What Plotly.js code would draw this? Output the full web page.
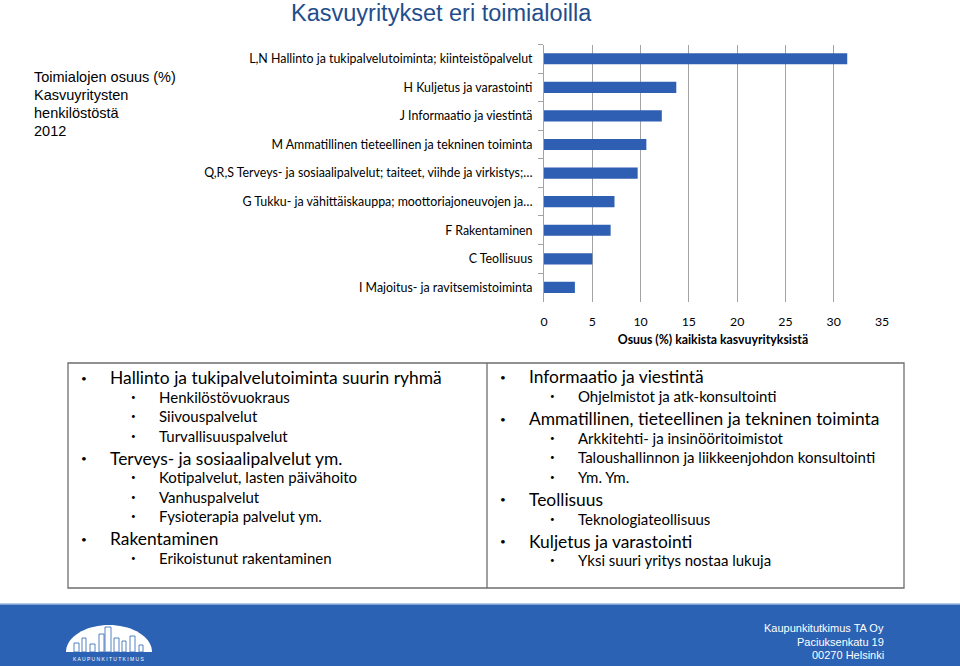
<!DOCTYPE html>
<html>
<head>
<meta charset="utf-8">
<script src="https://cdn.plot.ly/plotly-3.0.1.min.js"></script>
<style>
  html, body { margin: 0; padding: 0; background: #fff; }
  #chart { width: 960px; height: 666px; }
</style>
</head>
<body>
<div id="chart"></div>
<script>
// Chart data (top to bottom as shown)
const categories = [
  "L,N Hallinto ja tukipalvelutoiminta; kiinteistöpalvelut",
  "H Kuljetus ja varastointi",
  "J Informaatio ja viestintä",
  "M Ammatillinen tieteellinen ja tekninen toiminta",
  "Q,R,S Terveys- ja sosiaalipalvelut; taiteet, viihde ja virkistys;…",
  "G Tukku- ja vähittäiskauppa; moottoriajoneuvojen ja…",
  "F Rakentaminen",
  "C Teollisuus",
  "I Majoitus- ja ravitsemistoiminta"
];
const shares = [31.4, 13.7, 12.2, 10.6, 9.7, 7.3, 6.9, 5.0, 3.2];
const xTicks = [0, 5, 10, 15, 20, 25, 30, 35];

// Texts
const pageTitle = "Kasvuyritykset eri toimialoilla";
const sideNote = ["Toimialojen osuus (%)", "Kasvuyritysten", "henkilöstöstä", "2012"];
const xTitle = "<b>Osuus (%) kaikista kasvuyrityksistä</b>";

// Bullet lists: [level, text]
const leftList = [
  [1, "Hallinto ja tukipalvelutoiminta suurin ryhmä"],
  [2, "Henkilöstövuokraus"],
  [2, "Siivouspalvelut"],
  [2, "Turvallisuuspalvelut"],
  [1, "Terveys- ja sosiaalipalvelut ym."],
  [2, "Kotipalvelut, lasten päivähoito"],
  [2, "Vanhuspalvelut"],
  [2, "Fysioterapia palvelut ym."],
  [1, "Rakentaminen"],
  [2, "Erikoistunut rakentaminen"]
];
const rightList = [
  [1, "Informaatio ja viestintä"],
  [2, "Ohjelmistot ja atk-konsultointi"],
  [1, "Ammatillinen, tieteellinen ja tekninen toiminta"],
  [2, "Arkkitehti- ja insinööritoimistot"],
  [2, "Taloushallinnon ja liikkeenjohdon konsultointi"],
  [2, "Ym. Ym."],
  [1, "Teollisuus"],
  [2, "Teknologiateollisuus"],
  [1, "Kuljetus ja varastointi"],
  [2, "Yksi suuri yritys nostaa lukuja"]
];
const footerLines = ["Kaupunkitutkimus TA Oy", "Paciuksenkatu 19", "00270 Helsinki"];

// helpers: page pixels -> paper
const W = 960, H = 666;
const px = x => x / W;
const py = y => 1 - y / H;

const annotations = [];
const shapes = [];

function txt(x, y, text, size, opts) {
  opts = opts || {};
  annotations.push({
    xref: 'paper', yref: 'paper', x: px(x), y: py(y),
    text: text, showarrow: false,
    xanchor: opts.xanchor || 'left', yanchor: 'middle',
    align: opts.xanchor === 'right' ? 'right' : 'left',
    font: {family: opts.family || 'Lato, sans-serif', size: size, color: opts.color || '#000'}
  });
}

// Title and side note
txt(441, 13, pageTitle, 23.5, {xanchor: 'center', family: 'Liberation Sans, Arial, sans-serif', color: '#1f4e8c'});
sideNote.forEach((s, i) => txt(32, 77.5 + i * 17.7, s, 14.5, {family: 'Liberation Sans, Arial, sans-serif'}));

// Bullet boxes
shapes.push({type: 'rect', xref: 'paper', yref: 'paper', x0: px(68), x1: px(904), y0: py(363), y1: py(588),
  line: {color: '#6e6e6e', width: 1.3}, fillcolor: 'rgba(0,0,0,0)'});
shapes.push({type: 'line', xref: 'paper', yref: 'paper', x0: px(487), x1: px(487), y0: py(363), y1: py(588),
  line: {color: '#6e6e6e', width: 1.3}});

function bulletList(list, x0, yStart) {
  let y = yStart;
  list.forEach((item, i) => {
    const lvl = item[0];
    if (i > 0) y += (lvl === 1 ? 22.5 : 19.3);
    if (lvl === 1) {
      txt(x0, y, "•", 10);
      txt(x0 + 29, y, item[1], 17.4);
    } else {
      txt(x0 + 50, y, "•", 8);
      txt(x0 + 78, y, item[1], 15);
    }
  });
}
bulletList(leftList, 79, 377.7);
bulletList(rightList, 498, 377);

// Footer band
shapes.push({type: 'rect', xref: 'paper', yref: 'paper', x0: 0, x1: 1, y0: 0, y1: py(604),
  line: {width: 0}, fillcolor: '#2b62b3', layer: 'below'});
shapes.push({type: 'line', xref: 'paper', yref: 'paper', x0: 0, x1: 1, y0: py(604), y1: py(604),
  line: {color: '#9db8e0', width: 1.5}});
footerLines.forEach((s, i) => txt(886, 628 + i * 13.5, s, 11,
  {xanchor: 'right', family: 'Liberation Sans Narrow, Liberation Sans, Arial, sans-serif', color: '#fff'}));

// Logo: white dome with a small skyline
let dome = '';
for (let k = 0; k <= 36; k++) {
  const a = Math.PI * k / 36;
  const x = 109 - 43 * Math.cos(a), y = 652 - 27 * Math.sin(a);
  dome += (k === 0 ? 'M' : 'L') + px(x).toFixed(5) + ',' + py(y).toFixed(5);
}
dome += 'Z';
shapes.push({type: 'path', xref: 'paper', yref: 'paper', path: dome, fillcolor: '#fff', line: {width: 0}});
// building outlines [left, top, width]
const sky = [[74, 643, 5], [82, 638, 4], [90, 644, 5], [99, 634, 5], [105, 627, 6], [114, 638, 5], [122, 641, 4], [130, 636, 5], [139, 645, 4]];
sky.forEach(b => {
  shapes.push({type: 'rect', xref: 'paper', yref: 'paper', x0: px(b[0]), x1: px(b[0] + b[2]), y0: py(b[1]), y1: py(652),
    line: {color: '#2b62b3', width: 0.8}, fillcolor: '#fff'});
});
txt(109, 658.5, "K A U P U N K I T U T K I M U S", 5, {xanchor: 'center', family: 'Liberation Sans, Arial, sans-serif', color: '#fff'});

const trace = {
  type: 'bar',
  orientation: 'h',
  y: categories,
  x: shares,
  width: 0.39,
  marker: {color: '#2f5fb3'},
  hoverinfo: 'x+y'
};

const layout = {
  width: W, height: H,
  autosize: false,
  margin: {l: 0, r: 0, t: 0, b: 0},
  paper_bgcolor: '#fff',
  plot_bgcolor: 'rgba(0,0,0,0)',
  showlegend: false,
  xaxis: {
    domain: [px(544), px(882)],
    range: [0, 35],
    tickvals: xTicks,
    showgrid: true,
    gridcolor: '#a3a3a3',
    gridwidth: 1,
    zeroline: false,
    showline: false,
    ticks: 'outside',
    ticklen: 9,
    tickcolor: 'rgba(0,0,0,0)',
    tickfont: {family: 'Lato, sans-serif', size: 12.3, color: '#000'},
    title: {text: xTitle, font: {family: 'Lato, sans-serif', size: 12.3, color: '#000'}, standoff: 6},
    fixedrange: true
  },
  yaxis: {
    domain: [py(301.7), py(44.5)],
    type: 'category',
    autorange: 'reversed',
    showline: true,
    linecolor: '#a3a3a3',
    linewidth: 1,
    ticks: 'outside',
    tickson: 'boundaries',
    ticklen: 5,
    tickcolor: '#a3a3a3',
    ticklabelstandoff: 8,
    showgrid: false,
    tickfont: {family: 'Lato, sans-serif', size: 12.4, color: '#000'},
    fixedrange: true
  },
  shapes: shapes,
  annotations: annotations
};

Plotly.newPlot('chart', [trace], layout, {displayModeBar: false, staticPlot: true});
</script>
</body>
</html>
